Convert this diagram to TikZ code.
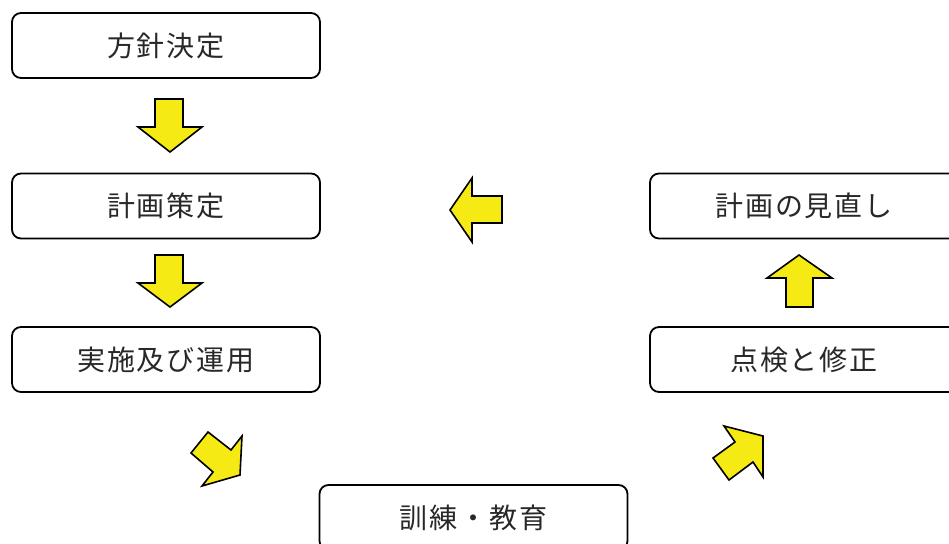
\documentclass[tikz,border=0pt]{standalone}
\usepackage{fontspec}
\newfontfamily\cjk[LetterSpace=7]{Noto Sans CJK JP}
\definecolor{arrowyellow}{RGB}{245,234,20}
\definecolor{txtgray}{RGB}{40,40,40}
\tikzset{
  stepbox/.style={draw=black, line width=1.8pt, rounded corners=9pt, fill=white,
    minimum width=308pt, minimum height=65pt, inner sep=0pt,
    font=\cjk\fontsize{28}{32}\selectfont, text=txtgray},
  blockarrow/.style={draw=black, line width=1.6pt, fill=arrowyellow, line join=miter}
}
\begin{document}
\begin{tikzpicture}[x=1pt,y=-1pt]
\useasboundingbox (0,0) rectangle (949,543);
\clip (0,0) rectangle (949,543);
\node[stepbox] (b1) at (166,45.5) {方針決定};
\node[stepbox] (b2) at (166,206) {計画策定};
\node[stepbox] (b3) at (166,359.5) {実施及び運用};
\node[stepbox] (b4) at (473.5,517.5) {訓練・教育};
\node[stepbox] (b5) at (804,359.5) {点検と修正};
\node[stepbox] (b6) at (804,206) {計画の見直し};
% down arrow 1
\draw[blockarrow] (155,99) -- (183,99) -- (183,127) -- (202,127) -- (170,152) -- (138,127) -- (155,127) -- cycle;
% down arrow 2
\draw[blockarrow] (155,255) -- (183,255) -- (183,283) -- (202,283) -- (170,307) -- (138,283) -- (155,283) -- cycle;
% diagonal down-right
\draw[blockarrow] (208,432) -- (231,450) -- (242,436) -- (240,475) -- (202,486) -- (213,472) -- (191,453) -- cycle;
% diagonal up-right
\draw[blockarrow] (724,426) -- (763,436) -- (763,477) -- (753,462) -- (729,480) -- (713,458) -- (735,442) -- cycle;
% up arrow
\draw[blockarrow] (786,307) -- (813,307) -- (813,278) -- (832,278) -- (799,255) -- (767,278) -- (786,278) -- cycle;
% left arrow
\draw[blockarrow] (502,196) -- (472,196) -- (472,178) -- (450,210) -- (472,242) -- (472,223) -- (502,223) -- cycle;
\end{tikzpicture}
\end{document}
